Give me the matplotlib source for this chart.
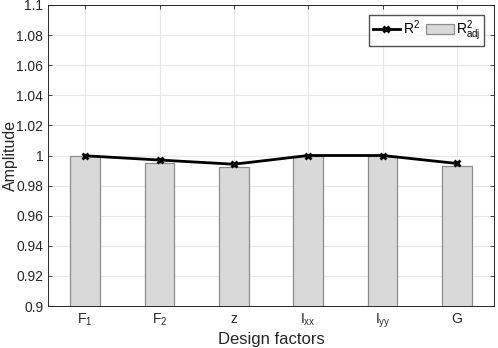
import numpy as np
import matplotlib.pyplot as plt
from matplotlib.ticker import FormatStrFormatter

plt.rcParams['font.family'] = ['Liberation Sans', 'DejaVu Sans']
plt.rcParams['mathtext.fontset'] = 'custom'
plt.rcParams['mathtext.rm'] = 'Liberation Sans'
plt.rcParams['mathtext.it'] = 'Liberation Sans'

factors = [r'$\mathrm{F_1}$', r'$\mathrm{F_2}$', 'z', r'$\mathrm{I_{xx}}$', r'$\mathrm{I_{yy}}$', 'G']
r2 = [0.9998, 0.9970, 0.9942, 1.0000, 1.0000, 0.9947]
r2_adj = [0.9996, 0.9948, 0.9921, 1.0000, 1.0000, 0.9929]

x = np.arange(1, len(factors) + 1)

fig = plt.figure(figsize=(4.98, 3.48), dpi=100)
ax = fig.add_axes([48 / 498, 42 / 348, 446 / 498, 301 / 348])

ax.bar(x, r2_adj, width=0.4, color='#d9d9d9', edgecolor='#8c8c8c', linewidth=0.9,
       label=r'$\mathrm{R^2_{adj}}$', zorder=2)
ax.plot(x, r2, color='black', linewidth=2, marker='x', markersize=4, markeredgewidth=2,
        label=r'$\mathrm{R^2}$', zorder=3)

ax.set_xlim(0.5, 6.5)
ax.set_ylim(0.9, 1.1)
ax.set_yticks(np.arange(0.9, 1.1001, 0.02))
ax.yaxis.set_major_formatter(FormatStrFormatter('%g'))
ax.set_xticks(x)
ax.set_xticklabels(factors)

ax.grid(True, color='#e6e6e6', linewidth=0.8, zorder=0)
ax.set_axisbelow(True)
ax.tick_params(direction='in', length=3, colors='#262626', labelsize=10,
               top=True, right=True, width=0.6)
ax.tick_params(axis='x', pad=4)
for s in ax.spines.values():
    s.set_color('#262626')
    s.set_linewidth(0.7)

ax.set_xlabel('Design factors', fontsize=12, color='#262626')
ax.xaxis.set_label_coords(0.5, -0.086)
ax.set_ylabel('Amplitude', fontsize=11.5, color='#262626')
ax.yaxis.set_label_coords(-0.068, 0.5)

handles, labels = ax.get_legend_handles_labels()
ax.legend(handles, labels, loc='upper right', ncol=2, fontsize=10, frameon=True,
          fancybox=False, edgecolor='#262626', handlelength=2.0, handletextpad=0.2,
          columnspacing=0.4, borderpad=0.25, borderaxespad=0.7)

fig.savefig('out.png', dpi=100)
